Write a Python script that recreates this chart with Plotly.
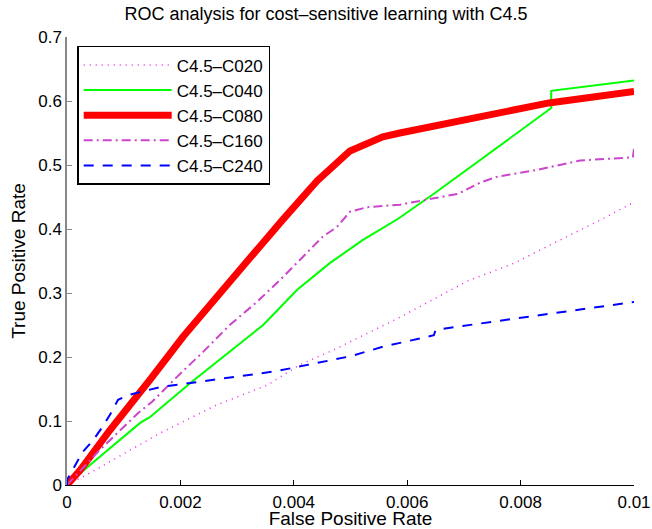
import plotly.graph_objects as go

# false positive rate in units of 1e-3, true positive rate
fpr_c020 = [0, 0.35, 1.64, 2.64, 3.53, 4.11, 4.7, 5.29, 5.87, 7.07, 7.9, 8.34, 9.47, 10.0]
tpr_c020 = [0, 0.016, 0.081, 0.125, 0.156, 0.188, 0.211, 0.237, 0.262, 0.319, 0.347, 0.367, 0.417, 0.442]

fpr_c040 = [0, 0.4, 1.29, 1.46, 2.17, 2.87, 3.46, 4.06, 4.64, 5.22, 5.84, 6.47, 7.07, 8.54, 8.54, 10.0]
tpr_c040 = [0, 0.031, 0.097, 0.106, 0.159, 0.208, 0.25, 0.305, 0.347, 0.383, 0.416, 0.455, 0.494, 0.589, 0.616, 0.632]

fpr_c080 = [0, 0.23, 0.76, 1.16, 1.46, 2.05, 2.64, 3.23, 3.81, 4.41, 4.99, 5.57, 5.87, 8.5, 10.0]
tpr_c080 = [0, 0.023, 0.086, 0.133, 0.164, 0.232, 0.295, 0.355, 0.415, 0.475, 0.522, 0.544, 0.55, 0.597, 0.615]

fpr_c160 = [0, 0.58, 1.25, 1.5, 1.94, 2.4, 2.87, 3.35, 3.81, 4.06, 4.51, 4.76, 4.99, 5.29, 5.87,
            6.47, 6.9, 7.3, 7.6, 8.27, 8.7, 9.05, 9.98, 10.0]
tpr_c160 = [0, 0.055, 0.112, 0.13, 0.169, 0.208, 0.25, 0.286, 0.325, 0.347, 0.388, 0.403, 0.427, 0.434, 0.438,
            0.448, 0.455, 0.473, 0.482, 0.492, 0.5, 0.507, 0.512, 0.525]

fpr_c240 = [0, 0, 0.28, 0.46, 0.62, 0.76, 0.9, 1.06, 1.64, 2.35, 3.05, 3.7, 4.34, 4.99, 5.57, 5.87,
            6.47, 6.5, 6.7, 10.0]
tpr_c240 = [0, 0.008, 0.052, 0.07, 0.09, 0.11, 0.133, 0.14, 0.153, 0.161, 0.17, 0.178, 0.189, 0.201, 0.216, 0.222,
            0.234, 0.242, 0.245, 0.286]

x_ticks = [0, 0.002, 0.004, 0.006, 0.008, 0.01]
x_tick_labels = ["0", "0.002", "0.004", "0.006", "0.008", "0.01"]
y_ticks = [0, 0.1, 0.2, 0.3, 0.4, 0.5, 0.6, 0.7]
y_tick_labels = ["0", "0.1", "0.2", "0.3", "0.4", "0.5", "0.6", "0.7"]

series = [
    ("C4.5–C020", fpr_c020, tpr_c020, "#ee22ee", 1.5, "1px,5px"),
    ("C4.5–C040", fpr_c040, tpr_c040, "#00ff00", 2, "solid"),
    ("C4.5–C080", fpr_c080, tpr_c080, "#ff0000", 7, "solid"),
    ("C4.5–C160", fpr_c160, tpr_c160, "#cc44cc", 2, "9px,4px,2px,4px"),
    ("C4.5–C240", fpr_c240, tpr_c240, "#0000ff", 2, "10px,9px"),
]

fig = go.Figure()
for name, xs, ys, color, width, dash in series:
    fig.add_trace(go.Scatter(
        x=[v / 1000 for v in xs], y=ys, name=name, mode="lines",
        line=dict(color=color, width=width, dash=dash),
    ))

font = "Liberation Sans, Arial, Helvetica, sans-serif"
fig.update_layout(
    width=652, height=529,
    margin=dict(l=67, r=18, t=37, b=44),
    paper_bgcolor="white", plot_bgcolor="white",
    font=dict(family=font, size=16, color="black"),
    title=dict(text="ROC analysis for cost–sensitive learning with C4.5",
               x=0.5, xanchor="center", y=0.986, yanchor="top", pad=dict(t=0),
               font=dict(size=18)),
    showlegend=True,
    legend=dict(x=0.018, y=0.98, xanchor="left", yanchor="top",
                bordercolor="black", borderwidth=1.5, bgcolor="white",
                itemwidth=88, entrywidth=207, tracegroupgap=0,
                font=dict(size=17)),
    xaxis=dict(range=[0, 0.01], tickvals=x_ticks, ticktext=x_tick_labels,
               ticks="inside", ticklen=5, tickcolor="black",
               showline=True, linecolor="black", linewidth=1,
               showgrid=False, zeroline=False, automargin=False,
               tickfont=dict(size=17), ticklabelstandoff=2,
               title=dict(text="False Positive Rate", standoff=3)),
    yaxis=dict(range=[0, 0.7], tickvals=y_ticks, ticktext=y_tick_labels,
               ticks="inside", ticklen=5, tickcolor="#888888",
               showline=True, linecolor="#888888", linewidth=1.5,
               showgrid=False, zeroline=False, automargin=False,
               tickfont=dict(size=17),
               title=dict(text="True Positive Rate", standoff=8)),
)

# drop the default 8px body margin so the figure sits at the window origin
fig.write_html("out.html", config={"displayModeBar": False},
               post_script="document.body.style.margin='0';")
